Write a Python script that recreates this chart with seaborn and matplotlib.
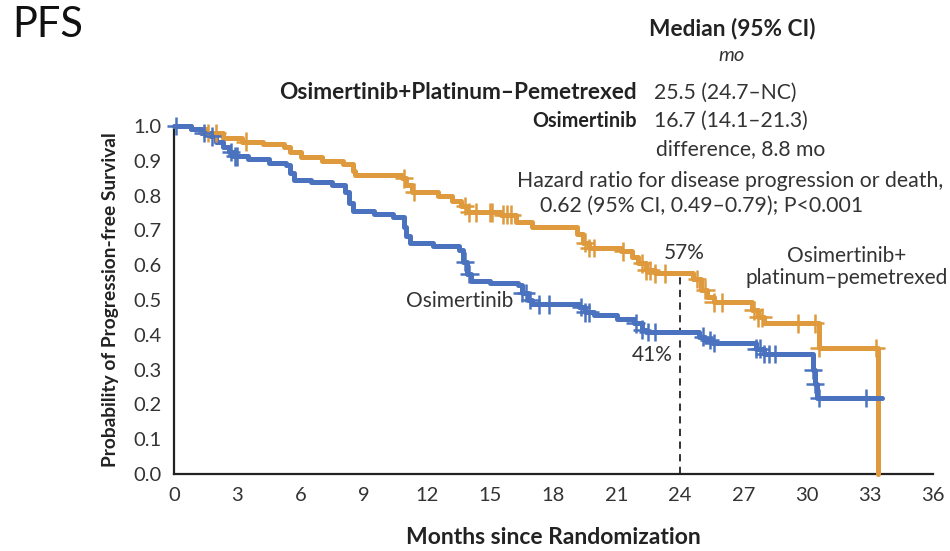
import numpy as np
import pandas as pd
import matplotlib
matplotlib.use("Agg")
import matplotlib.pyplot as plt
import seaborn as sns

# ---------------- data ----------------
combo_label = "Osimertinib+Platinum–Pemetrexed"
mono_label = "Osimertinib"

combo_times = [0, 0.8, 1.5, 2.3, 3.2, 4.2, 5.2, 5.5, 6.0, 7.0, 8.0, 8.5, 8.6,
               10.8, 11.0, 11.3, 12.5, 13.2, 13.6, 13.9, 15.5, 16.2, 17.0,
               19.1, 19.4, 19.7, 21.2, 21.7, 22.0, 22.4, 22.8, 24.6, 25.0,
               25.3, 25.6, 27.4, 27.7, 28.0, 30.6, 33.4]
combo_surv = [1.0, 0.99, 0.98, 0.965, 0.955, 0.948, 0.94, 0.925, 0.91, 0.90,
              0.89, 0.872, 0.858, 0.85, 0.83, 0.81, 0.80, 0.785, 0.77, 0.752,
              0.745, 0.725, 0.71, 0.69, 0.665, 0.65, 0.64, 0.625, 0.605,
              0.585, 0.577, 0.56, 0.53, 0.51, 0.493, 0.47, 0.45, 0.433,
              0.362, 0.0]
combo_censor = [1.6, 2.0, 3.4, 10.9, 11.4, 13.8, 14.0, 14.3, 15.0, 15.1, 15.6,
                15.8, 16.0, 19.5, 19.7, 19.9, 21.3, 22.2, 22.4, 22.6, 22.8,
                23.3, 24.8, 25.2, 25.6, 26.0, 27.5, 27.7, 27.9, 29.6, 30.4,
                30.6, 33.3]

mono_times = [0, 0.8, 1.3, 1.7, 2.0, 2.3, 2.6, 2.8, 3.5, 4.5, 5.3, 5.5, 5.7,
              6.5, 7.5, 8.1, 8.3, 8.5, 9.5, 10.4, 10.9, 11.0, 11.2, 12.3,
              13.5, 13.7, 13.9, 14.1, 15.0, 16.3, 16.5, 16.8, 17.0, 19.2,
              19.5, 19.9, 21.0, 21.8, 22.2, 22.4, 24.9, 25.2, 25.5, 27.6,
              28.0, 30.3, 30.4, 30.5, 33.6]
mono_surv = [1.0, 0.99, 0.98, 0.97, 0.955, 0.94, 0.925, 0.913, 0.905, 0.895,
             0.887, 0.865, 0.845, 0.838, 0.830, 0.81, 0.78, 0.755, 0.748,
             0.739, 0.71, 0.685, 0.663, 0.655, 0.645, 0.61, 0.575, 0.555,
             0.55, 0.543, 0.52, 0.50, 0.488, 0.48, 0.465, 0.457, 0.445,
             0.433, 0.415, 0.408, 0.395, 0.385, 0.376, 0.36, 0.345, 0.30,
             0.26, 0.218, 0.218]
mono_censor = [0.1, 1.4, 1.8, 2.7, 2.9, 3.0, 13.8, 14.0, 16.5, 16.7, 16.9,
               17.3, 17.8, 19.3, 19.5, 19.7, 21.9, 22.2, 22.5, 22.8, 25.1,
               25.4, 25.6, 27.6, 27.8, 28.0, 28.2, 28.5, 30.3, 30.4, 30.6,
               32.8]

landmark_month = 24
landmark_combo = 0.57
landmark_mono = 0.41

x_ticks = [0, 3, 6, 9, 12, 15, 18, 21, 24, 27, 30, 33, 36]
y_ticks = [0.0, 0.1, 0.2, 0.3, 0.4, 0.5, 0.6, 0.7, 0.8, 0.9, 1.0]

combo_color = "#DE9A3C"
mono_color = "#4A72BE"
text_color = "#333333"

# ---------------- figure ----------------
sns.set_theme(style="white")
plt.rcParams['font.family'] = ['Lato', 'DejaVu Sans']

fig = plt.figure(figsize=(9.5, 5.51), dpi=100)
ax = fig.add_axes([0.1832, 0.1397, 0.7989, 0.6316])

curves = pd.concat([
    pd.DataFrame({"month": combo_times, "surv": combo_surv, "arm": combo_label}),
    pd.DataFrame({"month": mono_times, "surv": mono_surv, "arm": mono_label}),
], ignore_index=True)
palette = {combo_label: combo_color, mono_label: mono_color}

sns.lineplot(data=curves, x="month", y="surv", hue="arm", palette=palette,
             estimator=None, sort=False, drawstyle="steps-post",
             linewidth=3.6, legend=False, ax=ax, zorder=3)


def step_value(times, surv, t):
    idx = np.searchsorted(np.asarray(times), t, side="right") - 1
    return np.asarray(surv)[idx]


cens = pd.concat([
    pd.DataFrame({"month": combo_censor,
                  "surv": [step_value(combo_times, combo_surv, c) for c in combo_censor],
                  "arm": combo_label}),
    pd.DataFrame({"month": mono_censor,
                  "surv": [step_value(mono_times, mono_surv, c) for c in mono_censor],
                  "arm": mono_label}),
], ignore_index=True)
sns.scatterplot(data=cens, x="month", y="surv", hue="arm", palette=palette,
                marker="+", s=180, linewidth=1.8, legend=False, ax=ax, zorder=4)

for art in ax.lines + ax.collections:
    art.set_clip_on(False)

ax.vlines(landmark_month, 0, landmark_combo, colors="#222222",
          linestyles=(0, (4, 3)), linewidth=1.3, zorder=2)

ax.set_xlim(0, 36)
ax.set_ylim(0, 1.0)
ax.set_xticks(x_ticks)
ax.set_xticklabels([str(v) for v in x_ticks])
ax.set_yticks(y_ticks)
ax.set_yticklabels([f"{v:.1f}" for v in y_ticks])
sns.despine(ax=ax)
for sp in ("left", "bottom"):
    ax.spines[sp].set_linewidth(1.6)
    ax.spines[sp].set_color("#222222")
ax.tick_params(axis="both", direction="out", length=7, width=1.5,
               colors="#222222", labelsize=14.5, labelcolor=text_color, pad=2)

ax.set_xlabel("Months since Randomization", fontsize=16.5, fontweight="bold",
              color="#222222", labelpad=17)
ax.set_ylabel("Probability of Progression-free Survival", fontsize=13.8,
              fontweight="bold", color="#222222", labelpad=10)

# annotations inside the axes
ax.text(13.57, 0.497, "Osimertinib", ha="center", va="center", fontsize=15,
        color=text_color)
ax.text(31.9, 0.595, "Osimertinib+\nplatinum–pemetrexed", ha="center",
        va="center", fontsize=15, color=text_color, linespacing=1.1)
ax.text(24.2, 0.635, f"{round(landmark_combo * 100)}%", ha="center",
        va="center", fontsize=15, color=text_color)
ax.text(22.7, 0.342, f"{round(landmark_mono * 100)}%", ha="center",
        va="center", fontsize=15, color=text_color)

# median table above / inside the plot
ax.text(26.47, 1.28, "Median (95% CI)", ha="center", va="center",
        fontsize=16.3, fontweight="bold", color="#222222", clip_on=False)
ax.text(26.47, 1.204, "mo", ha="center", va="center", fontsize=14.5,
        style="italic", color=text_color, clip_on=False)
ax.text(21.96, 1.095, combo_label, ha="right", va="center", fontsize=16.3,
        fontweight="bold", color="#222222", clip_on=False)
ax.text(22.77, 1.095, "25.5 (24.7–NC)", ha="left", va="center", fontsize=15.2,
        color=text_color, clip_on=False)
ax.text(21.96, 1.014, mono_label, ha="right", va="center", fontsize=14.2,
        fontweight="bold", color="#222222", clip_on=False)
ax.text(22.77, 1.014, "16.7 (14.1–21.3)", ha="left", va="center",
        fontsize=15.2, color=text_color, clip_on=False)
ax.text(26.9, 0.934, "difference, 8.8 mo", ha="center", va="center",
        fontsize=15.2, color=text_color)
ax.text(16.27, 0.842, "Hazard ratio for disease progression or death,",
        ha="left", va="center", fontsize=15.3, color=text_color)
ax.text(17.36, 0.770, "0.62 (95% CI, 0.49–0.79); P<0.001", ha="left",
        va="center", fontsize=15.3, color=text_color)

fig.text(12 / 950, 1 - 25 / 551, "PFS", ha="left", va="center", fontsize=30,
         color="#111111")

fig.savefig("out.png", dpi=100)
